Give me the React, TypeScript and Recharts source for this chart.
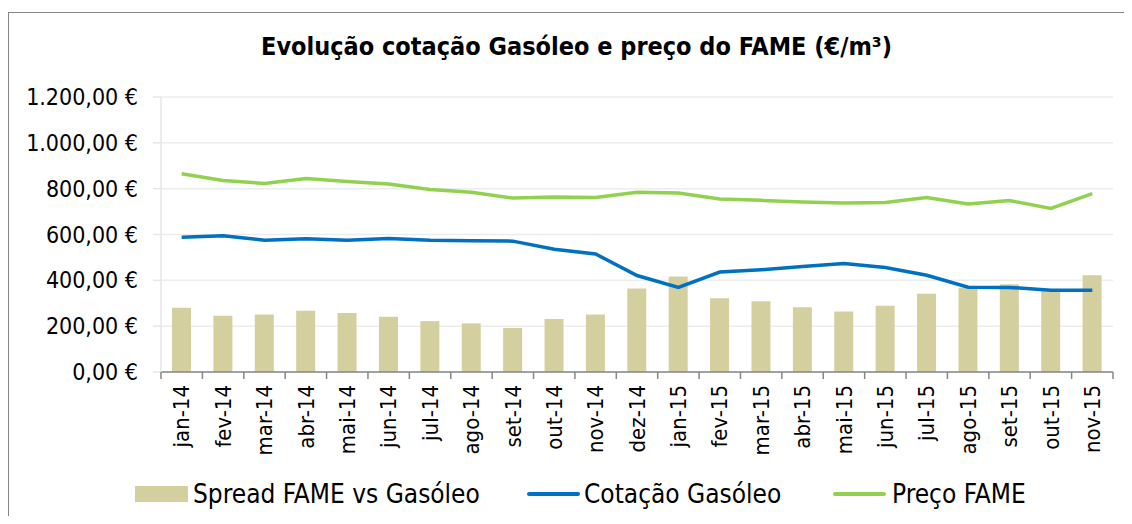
import { ComposedChart, Bar, Line, XAxis, YAxis, CartesianGrid } from 'recharts'

const months = [
  'jan-14', 'fev-14', 'mar-14', 'abr-14', 'mai-14', 'jun-14', 'jul-14', 'ago-14',
  'set-14', 'out-14', 'nov-14', 'dez-14', 'jan-15', 'fev-15', 'mar-15', 'abr-15',
  'mai-15', 'jun-15', 'jul-15', 'ago-15', 'set-15', 'out-15', 'nov-15',
]
const spread = [280, 245, 251, 267, 257, 241, 222, 212, 192, 231, 251, 364, 417, 322, 309, 283, 264, 289, 341, 368, 383, 357, 422]
const gasoleo = [588, 595, 575, 581, 575, 582, 575, 573, 571, 536, 515, 421, 369, 436, 446, 460, 473, 456, 422, 370, 369, 357, 357]
const fame = [865, 836, 823, 844, 831, 820, 796, 784, 759, 764, 762, 784, 781, 755, 749, 742, 737, 740, 761, 733, 748, 714, 778]
const yTicks = [0, 200, 400, 600, 800, 1000, 1200]

const seriesNames = ['Spread FAME vs Gasóleo', 'Cotação Gasóleo', 'Preço FAME']
const colors = { spread: '#d4cf9f', gasoleo: '#0070c0', fame: '#92d050' }

const data = months.map((m, i) => ({ month: m, spread: spread[i], gasoleo: gasoleo[i], fame: fame[i] }))

const FONT = "'DejaVu Sans Condensed', 'DejaVu Sans', sans-serif"
const W = 1124
const H = 508
const MARGIN = { top: 89, right: 19, left: 13, bottom: 54 }
const Y_AXIS_W = 140
const X_AXIS_H = 90
const STEP = (W - MARGIN.left - Y_AXIS_W - MARGIN.right) / months.length

// legend slots: [swatch left, text left] in container coords
const legendSlots = [[127, 185], [519, 576], [825, 884]]

// 1200 -> "1.200,00 €"
const fmtEuro = (v: number) => {
  const [i, d] = v.toFixed(2).split('.')
  return i.replace(/\B(?=(\d{3})+(?!\d))/g, '.') + ',' + d + ' €'
}

function MonthTick(props: any) {
  const { x, y, payload, index } = props
  const left = x - STEP / 2
  const right = x + STEP / 2
  return (
    <g>
      <line x1={left} x2={left} y1={y} y2={y + 7} stroke="#868686" strokeWidth={1.5} />
      {index === months.length - 1 && (
        <line x1={right} x2={right} y1={y} y2={y + 7} stroke="#868686" strokeWidth={1.5} />
      )}
      <text
        transform={`translate(${x},${y + 13}) rotate(-90)`}
        textAnchor="end"
        dy="0.35em"
        fontSize={22}
        fontFamily={FONT}
        fill="#000"
      >
        {payload.value}
      </text>
    </g>
  )
}

export default function App() {
  return (
    <div style={{ position: 'relative', width: W, height: H, overflow: 'hidden', fontFamily: FONT }}>
      <div
        style={{
          position: 'absolute', left: 0, top: 4, width: 1140, height: 600,
          border: '1px solid #868686', boxSizing: 'border-box',
        }}
      />
      <div
        style={{
          position: 'absolute', left: 0, top: 24, width: 1137, lineHeight: '30px',
          textAlign: 'center', fontWeight: 'bold', fontSize: 25, color: '#000',
        }}
      >
        Evolução cotação Gasóleo e preço do FAME (€/m³)
      </div>
      <div style={{ position: 'absolute', left: 0, top: 0 }}>
        <ComposedChart width={W} height={H} data={data} margin={MARGIN} barSize={19}>
          <CartesianGrid vertical={false} stroke="#ececec" strokeWidth={1.5} />
          <XAxis
            dataKey="month"
            height={X_AXIS_H}
            interval={0}
            tick={<MonthTick />}
            tickLine={false}
            tickSize={0}
            tickMargin={0}
            axisLine={{ stroke: '#868686', strokeWidth: 1.5 }}
          />
          <YAxis
            width={Y_AXIS_W}
            domain={[0, 1200]}
            ticks={yTicks}
            interval={0}
            tickFormatter={fmtEuro}
            tickSize={8}
            tickMargin={15}
            tickLine={{ stroke: '#e6e6e6', strokeWidth: 1.5 }}
            axisLine={{ stroke: '#e6e6e6', strokeWidth: 1.5 }}
            tick={{ fontSize: 23, fontFamily: FONT, fill: '#000' }}
          />
          <Bar dataKey="spread" name={seriesNames[0]} fill={colors.spread} isAnimationActive={false} />
          <Line
            dataKey="gasoleo" name={seriesNames[1]} type="linear" stroke={colors.gasoleo}
            strokeWidth={3.5} dot={false} isAnimationActive={false}
          />
          <Line
            dataKey="fame" name={seriesNames[2]} type="linear" stroke={colors.fame}
            strokeWidth={3.5} dot={false} isAnimationActive={false}
          />
        </ComposedChart>
      </div>
      {[colors.spread, colors.gasoleo, colors.fame].map((c, i) => (
        <div key={seriesNames[i]}>
          <span
            style={{
              position: 'absolute', left: legendSlots[i][0], top: i === 0 ? 478 : 484,
              width: i === 0 ? 53 : 53, height: i === 0 ? 16 : 4,
              background: c, borderRadius: i === 0 ? 0 : 2,
            }}
          />
          <span
            style={{
              position: 'absolute', left: legendSlots[i][1], top: 470, fontSize: 26,
              lineHeight: '32px', color: '#000', whiteSpace: 'nowrap',
            }}
          >
            {seriesNames[i]}
          </span>
        </div>
      ))}
    </div>
  )
}
